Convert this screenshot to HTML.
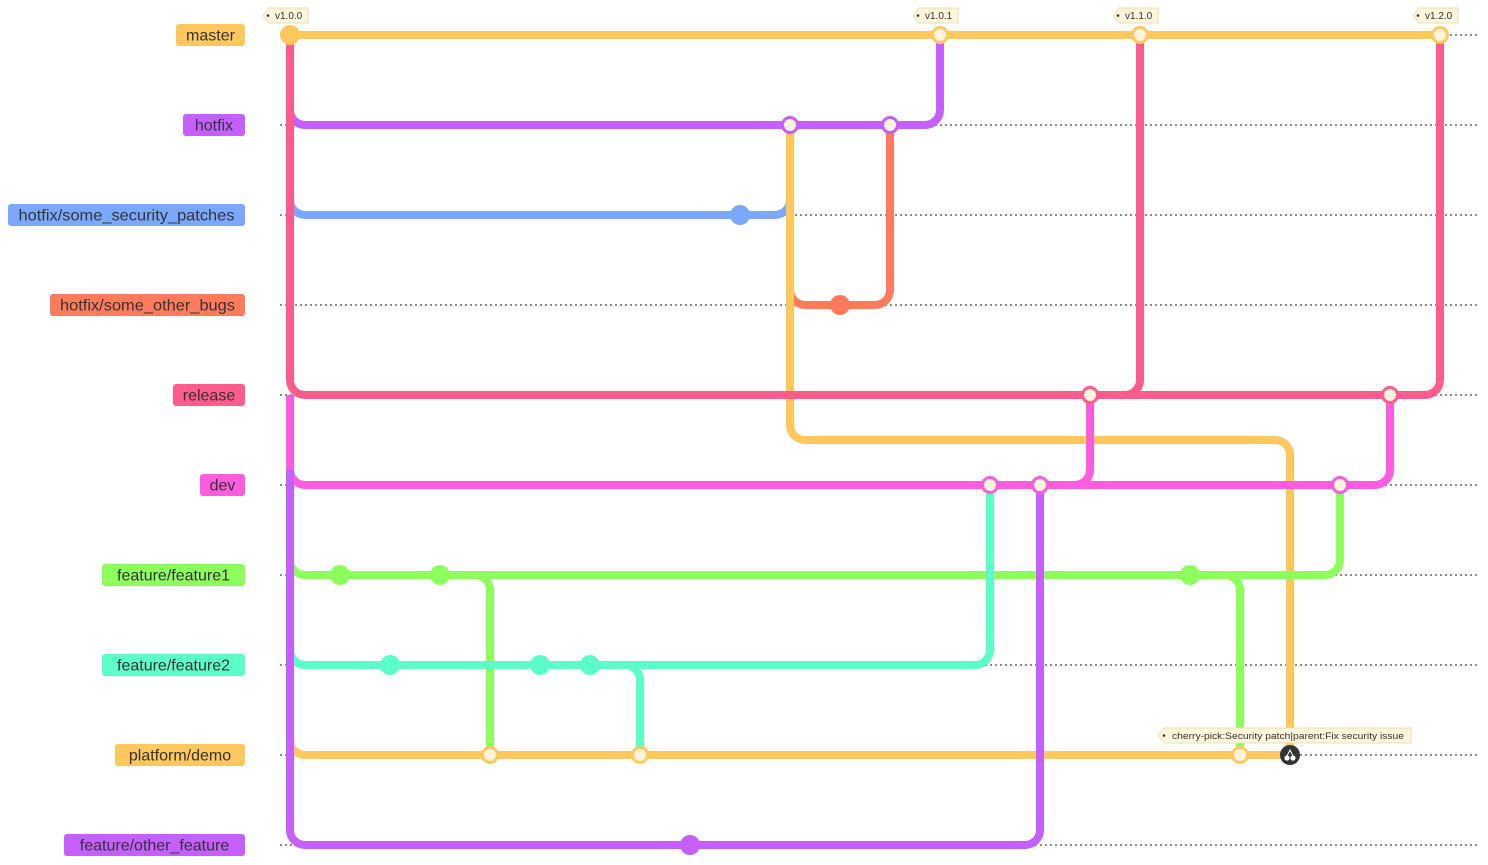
<!DOCTYPE html>
<html><head><meta charset="utf-8"><style>
html,body{margin:0;padding:0;background:#fff;}
svg{display:block;font-family:"Liberation Sans",sans-serif;}
</style></head><body>
<svg width="1488" height="865" viewBox="0 0 1488 865" xmlns="http://www.w3.org/2000/svg">
<g stroke="#666" stroke-width="1.5" stroke-dasharray="2,3">
<line x1="280" y1="35" x2="1478" y2="35"/><line x1="280" y1="125" x2="1478" y2="125"/>
<line x1="280" y1="215" x2="1478" y2="215"/><line x1="280" y1="305" x2="1478" y2="305"/>
<line x1="280" y1="395" x2="1478" y2="395"/><line x1="280" y1="485" x2="1478" y2="485"/>
<line x1="280" y1="575" x2="1478" y2="575"/><line x1="280" y1="665" x2="1478" y2="665"/>
<line x1="280" y1="755" x2="1478" y2="755"/><line x1="280" y1="845" x2="1478" y2="845"/>
</g>
<g fill="none" stroke-width="8" stroke-linecap="butt">
<path d="M290 35H1440" stroke="#FFC85C"/>
<path d="M290 100V110A15 15 0 0 0 305 125H925A15 15 0 0 0 940 110V35" stroke="#C55FFF"/>
<path d="M290 190V200A15 15 0 0 0 305 215H775A15 15 0 0 0 790 200V125" stroke="#7BA8FF"/>
<path d="M890 125V290A15 15 0 0 1 875 305H805A15 15 0 0 1 790 290" stroke="#FF7B5C"/>
<path d="M790 125V425A15 15 0 0 0 805 440H1275A15 15 0 0 1 1290 455V755" stroke="#FFC85C"/>
<path d="M290 35V380A15 15 0 0 0 305 395H1425A15 15 0 0 0 1440 380V35" stroke="#FF5C8D"/>
<path d="M1090 395H1125A15 15 0 0 0 1140 380V35" stroke="#FF5C8D"/>
<path d="M290 395V470A15 15 0 0 0 305 485H1375A15 15 0 0 0 1390 470V395" stroke="#FF5CE0"/>
<path d="M1090 395V470A15 15 0 0 1 1075 485H1040" stroke="#FF5CE0"/>
<path d="M290 555V560A15 15 0 0 0 305 575H1325A15 15 0 0 0 1340 560V485" stroke="#8CFF5C"/>
<path d="M440 575H475A15 15 0 0 1 490 590V755" stroke="#8CFF5C"/>
<path d="M1190 575H1225A15 15 0 0 1 1240 590V755" stroke="#8CFF5C"/>
<path d="M290 645V650A15 15 0 0 0 305 665H975A15 15 0 0 0 990 650V485" stroke="#5CFFC7"/>
<path d="M590 665H625A15 15 0 0 1 640 680V755" stroke="#5CFFC7"/>
<path d="M290 735V740A15 15 0 0 0 305 755H1290" stroke="#FFC85C"/>
<path d="M290 470V830A15 15 0 0 0 305 845H1025A15 15 0 0 0 1040 830V485" stroke="#C55FFF"/>
</g>
<g>
<circle cx="290" cy="35" r="10" fill="#FFC85C"/>
<circle cx="740" cy="215" r="10" fill="#7BA8FF"/>
<circle cx="840" cy="305" r="10" fill="#FF7B5C"/>
<circle cx="340" cy="575" r="10" fill="#8CFF5C"/><circle cx="440" cy="575" r="10" fill="#8CFF5C"/><circle cx="1190" cy="575" r="10" fill="#8CFF5C"/>
<circle cx="390" cy="665" r="10" fill="#5CFFC7"/><circle cx="540" cy="665" r="10" fill="#5CFFC7"/><circle cx="590" cy="665" r="10" fill="#5CFFC7"/>
<circle cx="690" cy="845" r="10" fill="#C55FFF"/>
</g>
<g fill="#FFF3DC" stroke-width="3">
<circle cx="940" cy="35" r="7.5" stroke="#FFC85C"/><circle cx="1140" cy="35" r="7.5" stroke="#FFC85C"/><circle cx="1440" cy="35" r="7.5" stroke="#FFC85C"/>
<circle cx="790" cy="125" r="7.5" stroke="#C55FFF"/><circle cx="890" cy="125" r="7.5" stroke="#C55FFF"/>
<circle cx="1090" cy="395" r="7.5" stroke="#FF5C8D"/><circle cx="1390" cy="395" r="7.5" stroke="#FF5C8D"/>
<circle cx="990" cy="485" r="7.5" stroke="#FF5CE0"/><circle cx="1040" cy="485" r="7.5" stroke="#FF5CE0"/><circle cx="1340" cy="485" r="7.5" stroke="#FF5CE0"/>
<circle cx="490" cy="755" r="7.5" stroke="#FFC85C"/><circle cx="640" cy="755" r="7.5" stroke="#FFC85C"/><circle cx="1240" cy="755" r="7.5" stroke="#FFC85C"/>
</g>
<circle cx="1290" cy="755" r="10" fill="#333"/>
<circle cx="1287" cy="758" r="2.6" fill="#fff"/><circle cx="1293" cy="758" r="2.6" fill="#fff"/>
<path d="M1287 756L1290 750L1293 756" stroke="#fff" stroke-width="1" fill="none"/>
<g font-size="10" fill="#333">
<path d="M263 15.5L269 8H308V23H269Z" fill="#FFF5DC" stroke="#EEDDB0"/><circle cx="268" cy="15.5" r="1.3" fill="#333"/><text x="275" y="19">v1.0.0</text>
<path d="M913 15.5L919 8H958V23H919Z" fill="#FFF5DC" stroke="#EEDDB0"/><circle cx="918" cy="15.5" r="1.3" fill="#333"/><text x="925" y="19">v1.0.1</text>
<path d="M1113 15.5L1119 8H1158V23H1119Z" fill="#FFF5DC" stroke="#EEDDB0"/><circle cx="1118" cy="15.5" r="1.3" fill="#333"/><text x="1125" y="19">v1.1.0</text>
<path d="M1413 15.5L1419 8H1458V23H1419Z" fill="#FFF5DC" stroke="#EEDDB0"/><circle cx="1418" cy="15.5" r="1.3" fill="#333"/><text x="1425" y="19">v1.2.0</text>
<path d="M1158 735.5L1164 728H1411V743H1164Z" fill="#FFF5DC" stroke="#EEDDB0"/><circle cx="1164" cy="735.5" r="1.3" fill="#333"/><text x="1172" y="739" textLength="232" lengthAdjust="spacingAndGlyphs" font-size="9">cherry-pick:Security patch|parent:Fix security issue</text>
</g>
<g font-size="16" fill="#333" text-anchor="middle">
<rect x="176" y="24" width="69" height="22" rx="3" fill="#FFC85C"/><text x="210.5" y="40.5">master</text>
<rect x="183" y="114" width="62" height="22" rx="3" fill="#C55FFF"/><text x="214" y="130.5">hotfix</text>
<rect x="8" y="204" width="237" height="22" rx="3" fill="#7BA8FF"/><text x="126.5" y="220.5" textLength="216" lengthAdjust="spacingAndGlyphs">hotfix/some_security_patches</text>
<rect x="50" y="294" width="195" height="22" rx="3" fill="#FF7B5C"/><text x="147.5" y="310.5" textLength="175" lengthAdjust="spacingAndGlyphs">hotfix/some_other_bugs</text>
<rect x="173" y="384" width="72" height="22" rx="3" fill="#FF5C8D"/><text x="209" y="400.5">release</text>
<rect x="200" y="474" width="45" height="22" rx="3" fill="#FF5CE0"/><text x="222.5" y="490.5">dev</text>
<rect x="102" y="564" width="143" height="22" rx="3" fill="#8CFF5C"/><text x="173.5" y="580.5">feature/feature1</text>
<rect x="102" y="654" width="143" height="22" rx="3" fill="#5CFFC7"/><text x="173.5" y="670.5">feature/feature2</text>
<rect x="115" y="744" width="130" height="22" rx="3" fill="#FFC85C"/><text x="180" y="760.5">platform/demo</text>
<rect x="64" y="834" width="181" height="22" rx="3" fill="#C55FFF"/><text x="154.5" y="850.5">feature/other_feature</text>
</g>
</svg>
</body></html>
